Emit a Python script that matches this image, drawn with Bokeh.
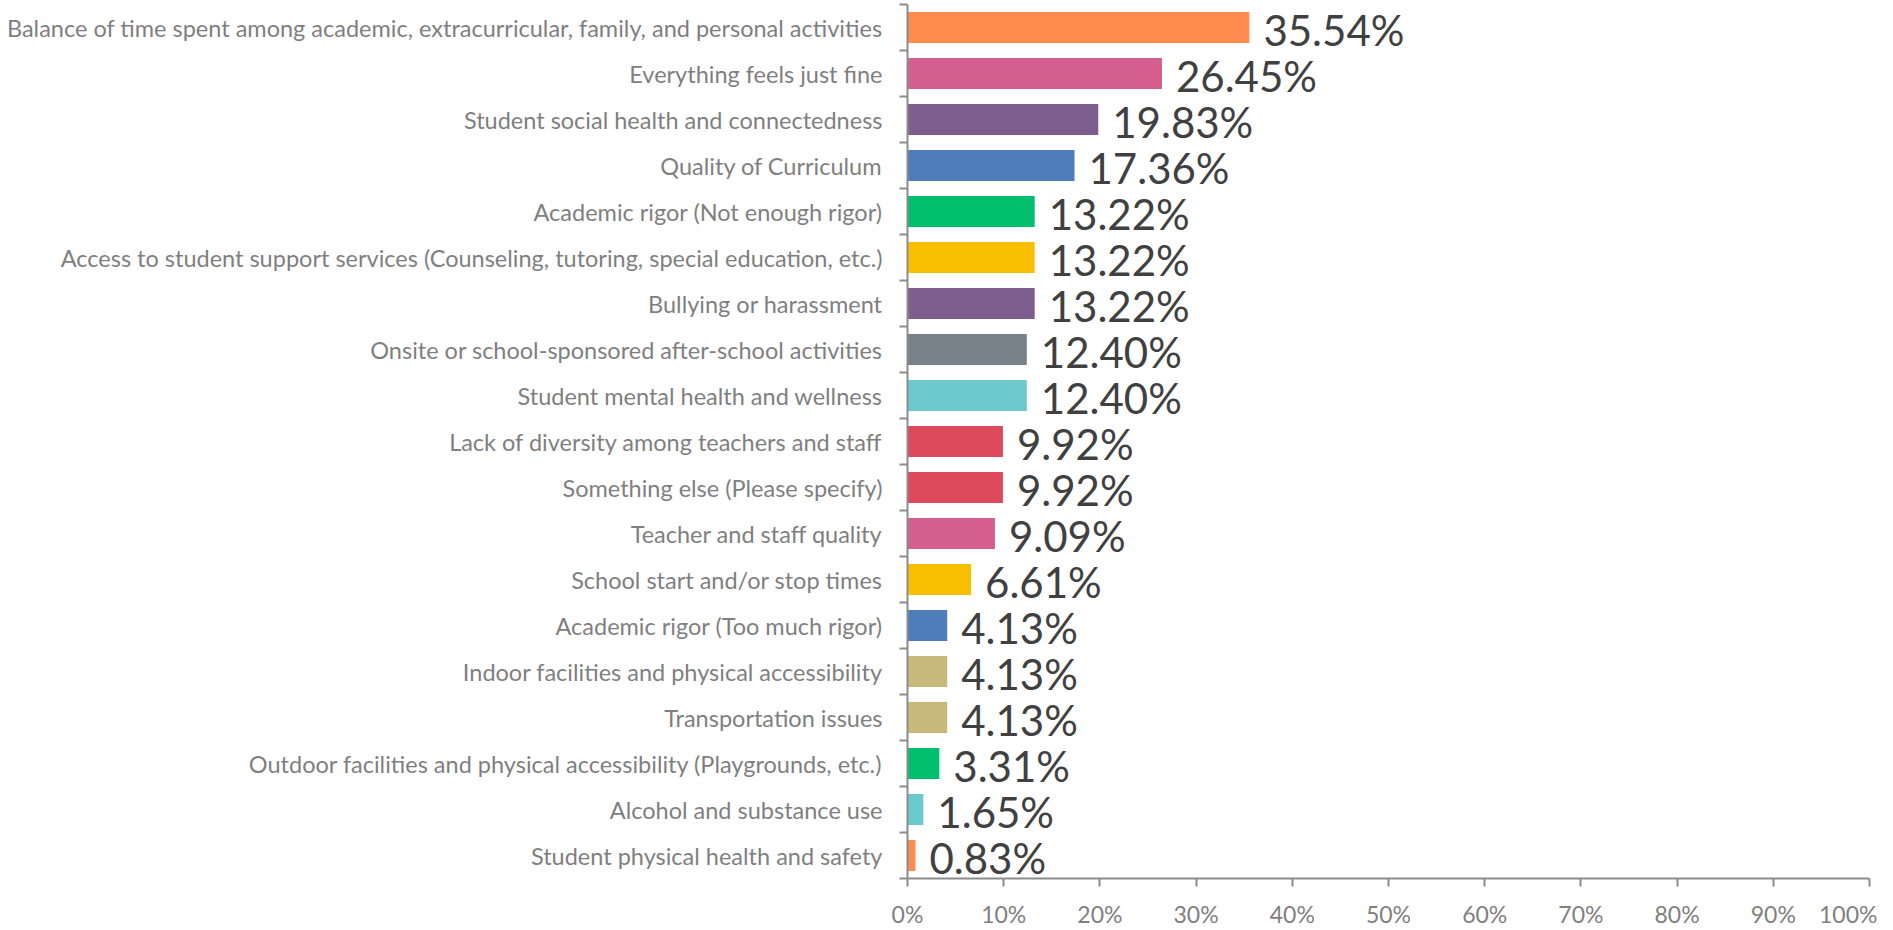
from bokeh.plotting import figure
from bokeh.models import ColumnDataSource, FixedTicker, NumeralTickFormatter, Range1d
from bokeh.core.properties import value
from bokeh.embed import file_html
from bokeh.resources import INLINE

categories = [
    "Balance of time spent among academic, extracurricular, family, and personal activities",
    "Everything feels just fine",
    "Student social health and connectedness",
    "Quality of Curriculum",
    "Academic rigor (Not enough rigor)",
    "Access to student support services (Counseling, tutoring, special education, etc.)",
    "Bullying or harassment",
    "Onsite or school-sponsored after-school activities",
    "Student mental health and wellness",
    "Lack of diversity among teachers and staff",
    "Something else (Please specify)",
    "Teacher and staff quality",
    "School start and/or stop times",
    "Academic rigor (Too much rigor)",
    "Indoor facilities and physical accessibility",
    "Transportation issues",
    "Outdoor facilities and physical accessibility (Playgrounds, etc.)",
    "Alcohol and substance use",
    "Student physical health and safety",
]
values = [35.54, 26.45, 19.83, 17.36, 13.22, 13.22, 13.22, 12.40, 12.40,
          9.92, 9.92, 9.09, 6.61, 4.13, 4.13, 4.13, 3.31, 1.65, 0.83]
colors = ["#FF8B4F", "#D45F8E", "#7E5E8F", "#4F7DBA", "#00BF6F", "#F8BF00",
          "#7E5E8F", "#79818A", "#6CC9CE", "#DC4A5B", "#DC4A5B", "#D45F8E",
          "#F8BF00", "#4F7DBA", "#C8B87A", "#C8B87A", "#00BF6F", "#6CC9CE",
          "#FF8B4F"]
x_ticks = [0, 0.1, 0.2, 0.3, 0.4, 0.5, 0.6, 0.7, 0.8, 0.9, 1.0]

n = len(categories)
ypos = [n - 0.5 - i for i in range(n)]
src = ColumnDataSource(dict(
    y=ypos,
    v=[v / 100 for v in values],
    c=colors,
    lab=["%.2f%%" % v for v in values],
))

p = figure(width=1877, height=930, output_backend="svg", toolbar_location=None,
           x_range=Range1d(0, 1), y_range=Range1d(0, n),
           min_border_left=907, min_border_right=8, min_border_top=4,
           min_border_bottom=51)
p.outline_line_color = None
p.grid.visible = False
p.background_fill_color = "white"
p.border_fill_color = "white"

p.hbar(y="y", right="v", left=0, height=0.67, fill_color="c", line_color=None, source=src)
p.text(x="v", y="y", text="lab", source=src, x_offset=14, y_offset=2,
       text_baseline="middle", text_align="left", text_color="#404040",
       text_font=value("Lato"), text_font_size="42px")

# x axis
p.xaxis.ticker = FixedTicker(ticks=x_ticks, minor_ticks=[])
p.xaxis.formatter = NumeralTickFormatter(format="0%")
p.xaxis.axis_line_color = "#8C8C8C"
p.xaxis.axis_line_width = 2
p.xaxis.major_tick_line_color = "#8C8C8C"
p.xaxis.major_tick_line_width = 2
p.xaxis.major_tick_out = 8
p.xaxis.major_tick_in = 0
p.xaxis.major_label_text_color = "#808080"
p.xaxis.major_label_text_font = "Lato"
p.xaxis.major_label_text_font_size = "23px"
p.xaxis.major_label_standoff = 13

# y axis
p.yaxis.ticker = FixedTicker(ticks=ypos, minor_ticks=list(range(n + 1)))
p.yaxis.major_label_overrides = {y: c for y, c in zip(ypos, categories)}
p.yaxis.axis_line_color = "#8C8C8C"
p.yaxis.axis_line_width = 2
p.yaxis.major_tick_line_color = None
p.yaxis.minor_tick_line_color = "#8C8C8C"
p.yaxis.minor_tick_line_width = 2
p.yaxis.minor_tick_out = 8
p.yaxis.minor_tick_in = 0
p.yaxis.major_label_text_color = "#7F7F7F"
p.yaxis.major_label_text_font = "Lato"
p.yaxis.major_label_text_font_size = "23.5px"
p.yaxis.major_label_standoff = 17

open("out.html", "w").write(file_html(p, INLINE))
